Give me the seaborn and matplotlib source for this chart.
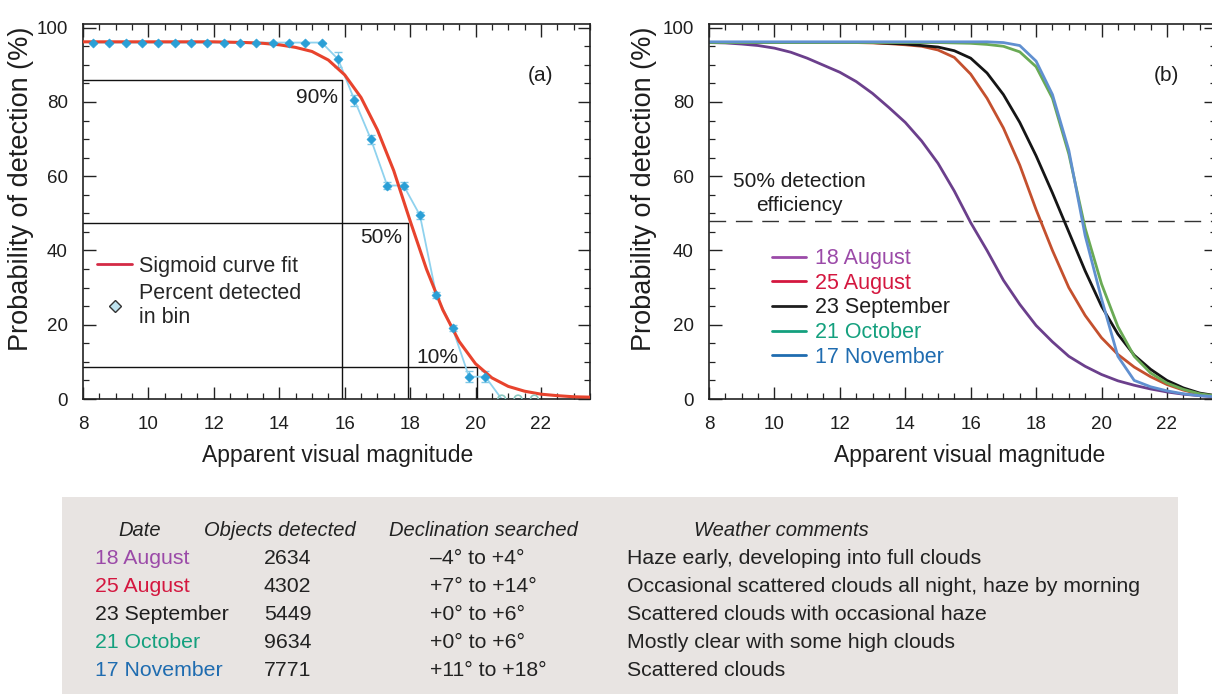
import matplotlib
matplotlib.use("Agg")
import matplotlib.pyplot as plt
from matplotlib.lines import Line2D
from matplotlib.patches import Rectangle
from matplotlib.ticker import MultipleLocator
import pandas as pd
import seaborn as sns

# ---- data ----
# magnitude grid used for the fitted curves
mag = [8.0, 8.5, 9.0, 9.5, 10.0, 10.5, 11.0, 11.5, 12.0, 12.5, 13.0, 13.5,
       14.0, 14.5, 15.0, 15.5, 16.0, 16.5, 17.0, 17.5, 18.0, 18.5, 19.0, 19.5,
       20.0, 20.5, 21.0, 21.5, 22.0, 22.5, 23.0, 23.5]

# panel (a): sigmoid fit
fit_pct = [96.2, 96.2, 96.2, 96.2, 96.2, 96.2, 96.2, 96.2, 96.2, 96.1, 96.0, 95.8,
           95.4, 94.7, 93.6, 91.3, 87.3, 81.2, 72.5, 61.5, 48.0, 35.0, 24.0, 15.5,
           9.5, 5.7, 3.4, 2.1, 1.3, 0.9, 0.6, 0.5]

# panel (a): percent detected in bin
bin_mag = [8.3, 8.8, 9.3, 9.8, 10.3, 10.8, 11.3, 11.8, 12.3, 12.8, 13.3, 13.8,
           14.3, 14.8, 15.3, 15.8, 16.3, 16.8, 17.3, 17.8, 18.3, 18.8, 19.3, 19.8,
           20.3, 20.8, 21.3, 21.8]
bin_pct = [96.0, 96.0, 96.0, 96.0, 96.0, 96.0, 96.0, 96.0, 96.0, 96.0, 96.0, 96.0,
           96.0, 96.0, 96.0, 91.5, 80.5, 70.0, 57.5, 57.5, 49.5, 28.0, 19.0, 6.0,
           6.0, 0.0, 0.0, 0.0]
bin_err = [0.0, 0.0, 0.0, 0.0, 0.0, 0.0, 0.0, 0.0, 0.0, 0.0, 0.0, 0.0,
           0.0, 0.0, 0.0, 2.0, 1.5, 1.2, 1.0, 1.0, 1.0, 0.8, 0.8, 1.5,
           1.5, 0.0, 0.0, 0.0]

# 90 / 50 / 10 % levels of the fit
level_names = ["90%", "50%", "10%"]
level_mag = [15.93, 17.95, 20.05]
level_pct = [86.0, 47.5, 8.6]

# panel (b): one fitted curve per night
aug18 = [96.0, 95.9, 95.6, 95.2, 94.5, 93.4, 91.8, 89.9, 88.0, 85.5, 82.3, 78.5,
         74.5, 69.5, 63.5, 56.0, 47.5, 40.0, 32.0, 25.5, 19.8, 15.4, 11.5, 8.8,
         6.6, 4.9, 3.7, 2.7, 1.9, 1.3, 0.9, 0.6]
aug25 = [96.0, 96.0, 96.0, 96.0, 96.0, 96.0, 96.0, 96.0, 96.0, 96.0, 95.9, 95.7,
         95.4, 95.0, 94.0, 92.0, 87.5, 81.0, 73.0, 63.0, 51.0, 40.0, 30.0, 22.5,
         16.5, 12.0, 8.6, 6.0, 3.9, 2.4, 1.3, 0.8]
sep23 = [96.0, 96.0, 96.0, 96.0, 96.0, 96.0, 96.0, 96.0, 96.0, 96.0, 96.0, 95.8,
         95.6, 95.2, 94.8, 93.8, 91.8, 87.8, 82.0, 74.5, 65.5, 55.5, 45.0, 34.5,
         25.0, 17.5, 11.8, 8.0, 5.0, 3.0, 1.6, 0.9]
oct21 = [96.0, 96.0, 96.0, 96.0, 96.0, 96.0, 96.0, 96.0, 96.0, 96.0, 96.0, 96.0,
         96.0, 96.0, 96.0, 95.9, 95.8, 95.5, 95.0, 93.5, 89.5, 81.0, 66.0, 46.0,
         31.0, 19.5, 11.5, 7.0, 4.3, 2.6, 1.4, 0.8]
nov17 = [96.2, 96.2, 96.2, 96.2, 96.2, 96.2, 96.2, 96.2, 96.2, 96.2, 96.2, 96.2,
         96.2, 96.2, 96.2, 96.2, 96.2, 96.2, 96.0, 95.2, 91.0, 82.0, 67.0, 44.0,
         27.0, 11.5, 5.0, 3.3, 2.2, 1.4, 0.9, 0.6]

dates = ["18 August", "25 August", "23 September", "21 October", "17 November"]
objects = ["2634", "4302", "5449", "9634", "7771"]
declination = ["\u20134\u00b0 to +4\u00b0", "+7\u00b0 to +14\u00b0", "+0\u00b0 to +6\u00b0",
               "+0\u00b0 to +6\u00b0", "+11\u00b0 to +18\u00b0"]
weather = ["Haze early, developing into full clouds",
           "Occasional scattered clouds all night, haze by morning",
           "Scattered clouds with occasional haze",
           "Mostly clear with some high clouds",
           "Scattered clouds"]

curve_colors = ["#6b3f8c", "#c4502e", "#151515", "#6aaa55", "#6090d0"]
label_colors = ["#9b4aa8", "#d4173f", "#1e1e1e", "#14a07e", "#1f6cb0"]

sns.set_theme(style="ticks")
plt.rcParams["font.family"] = ["Liberation Sans", "DejaVu Sans"]
plt.rcParams["axes.edgecolor"] = "#222222"
plt.rcParams["axes.linewidth"] = 1.2

W, H = 1212, 694
TXT = "#1e1e1e"
fig = plt.figure(figsize=(W / 100, H / 100), dpi=100)
ax_a = fig.add_axes([83 / W, 1 - 399 / H, 507 / W, 375 / H])
ax_b = fig.add_axes([709 / W, 1 - 399 / H, 507 / W, 375 / H])

# ---- panel (a) ----
df_fit = pd.DataFrame({"mag": mag, "pct": fit_pct})
df_bin = pd.DataFrame({"mag": bin_mag, "pct": bin_pct, "err": bin_err})

ax_a.errorbar(df_bin["mag"], df_bin["pct"], yerr=df_bin["err"], fmt="none",
              ecolor="#7fc8e6", elinewidth=1, capsize=3, zorder=2)
sns.lineplot(data=df_bin, x="mag", y="pct", ax=ax_a, color="#8fd2ee", lw=1.3,
             zorder=2, legend=False)
hit = df_bin[df_bin["pct"] > 0]
miss = df_bin[df_bin["pct"] == 0]
sns.scatterplot(data=hit, x="mag", y="pct", ax=ax_a, marker="D", s=22,
                color="#2a9fd6", edgecolor="#2a9fd6", zorder=4, legend=False)
ax_a.scatter(miss["mag"], miss["pct"], s=30, facecolor="none",
             edgecolor="#8cc8c0", linewidth=1.2, zorder=4)
sns.lineplot(data=df_fit, x="mag", y="pct", ax=ax_a, color="#e8432d", lw=2.2,
             zorder=3, legend=False)

for name, m, p in zip(level_names, level_mag, level_pct):
    ax_a.plot([8, m], [p, p], color="#111111", lw=1.0, zorder=1)
    ax_a.plot([m, m], [0, p], color="#111111", lw=1.0, zorder=1)
ax_a.text(15.8, 81.3, "90%", ha="right", va="center", fontsize=15, color=TXT)
ax_a.text(17.76, 43.4, "50%", ha="right", va="center", fontsize=15, color=TXT)
ax_a.text(19.47, 11.3, "10%", ha="right", va="center", fontsize=15, color=TXT)
ax_a.text(22.0, 87.2, "(a)", ha="center", va="center", fontsize=15, color=TXT)

handles_a = [Line2D([], [], color="#d42a45", lw=2),
             Line2D([], [], ls="none", marker="D", markersize=6,
                    markerfacecolor="#bfe3ef", markeredgecolor="#333333")]
ax_a.legend(handles_a, ["Sigmoid curve fit", "Percent detected\nin bin"],
            loc="upper left", bbox_to_anchor=(0.006, 0.41), frameon=False,
            fontsize=15.5, handlelength=1.65, handletextpad=0.3, borderpad=0,
            labelspacing=0.28)

# ---- panel (b) ----
df_b = pd.DataFrame({
    "mag": mag * 5,
    "pct": aug18 + aug25 + sep23 + oct21 + nov17,
    "date": sum([[d] * len(mag) for d in dates], []),
})
sns.lineplot(data=df_b, x="mag", y="pct", hue="date", hue_order=dates,
             palette=curve_colors, ax=ax_b, lw=2.0, legend=False)
ax_b.axhline(48.0, color="#333333", lw=1.0, dashes=(12, 7), zorder=1)
ax_b.text(10.76, 55.3, "50% detection\nefficiency", ha="center", va="center",
          fontsize=15, color=TXT, linespacing=1.35)
ax_b.text(22.0, 87.2, "(b)", ha="center", va="center", fontsize=15, color=TXT)

handles_b = [Line2D([], [], color=c, lw=2) for c in label_colors]
leg_b = ax_b.legend(handles_b, dates, loc="upper left", bbox_to_anchor=(0.103, 0.431),
                    frameon=False, fontsize=15.5, handlelength=1.6,
                    handletextpad=0.42, borderpad=0, labelspacing=0.17)
for txt, c in zip(leg_b.get_texts(), label_colors):
    txt.set_color(c)

# ---- shared axis styling ----
for ax in (ax_a, ax_b):
    ax.set_xlim(8, 23.5)
    ax.set_ylim(0, 101)
    ax.xaxis.set_major_locator(MultipleLocator(2))
    ax.xaxis.set_minor_locator(MultipleLocator(0.5))
    ax.yaxis.set_major_locator(MultipleLocator(20))
    ax.yaxis.set_minor_locator(MultipleLocator(5))
    ax.tick_params(which="both", direction="in", top=True, right=True,
                   color="#222222", labelsize=13.5, labelcolor=TXT)
    ax.tick_params(which="major", length=9, width=1.0)
    ax.tick_params(which="minor", length=4.5, width=0.9)
    ax.tick_params(axis="y", pad=11)
    ax.tick_params(axis="x", pad=12.5)
    ax.set_xlabel("Apparent visual magnitude", fontsize=16.5, color=TXT)
    ax.set_ylabel("Probability of detection (%)", fontsize=19.5, color=TXT)
    for s in ax.spines.values():
        s.set_visible(True)

ax_a.xaxis.set_label_coords(0.503, -0.119)
ax_b.xaxis.set_label_coords(0.515, -0.119)
ax_a.yaxis.set_label_coords(-0.097, 0.56)
ax_b.yaxis.set_label_coords(-0.103, 0.56)

# ---- table under the plots ----
fig.patches.append(Rectangle((62 / W, 0), (1178 - 62) / W, (H - 497) / H,
                             transform=fig.transFigure, facecolor="#e8e4e2",
                             edgecolor="none", zorder=0))

head_y = 1 - 530 / H
for label, x in zip(["Date", "Objects detected", "Declination searched", "Weather comments"],
                    [140, 280, 483, 781]):
    fig.text(x / W, head_y, label, ha="center", va="center", fontsize=14.5,
             style="italic", color="#222222")

row_y = [559, 587, 615, 643, 671]
for i in range(5):
    y = 1 - row_y[i] / H
    fig.text(95 / W, y, dates[i], ha="left", va="center", fontsize=15.3, color=label_colors[i])
    fig.text(264 / W, y, objects[i], ha="left", va="center", fontsize=15.3, color="#222222")
    fig.text(430 / W, y, declination[i], ha="left", va="center", fontsize=15.3, color="#222222")
    fig.text(627 / W, y, weather[i], ha="left", va="center", fontsize=15.3, color="#222222")

fig.savefig("out.png", dpi=100)
